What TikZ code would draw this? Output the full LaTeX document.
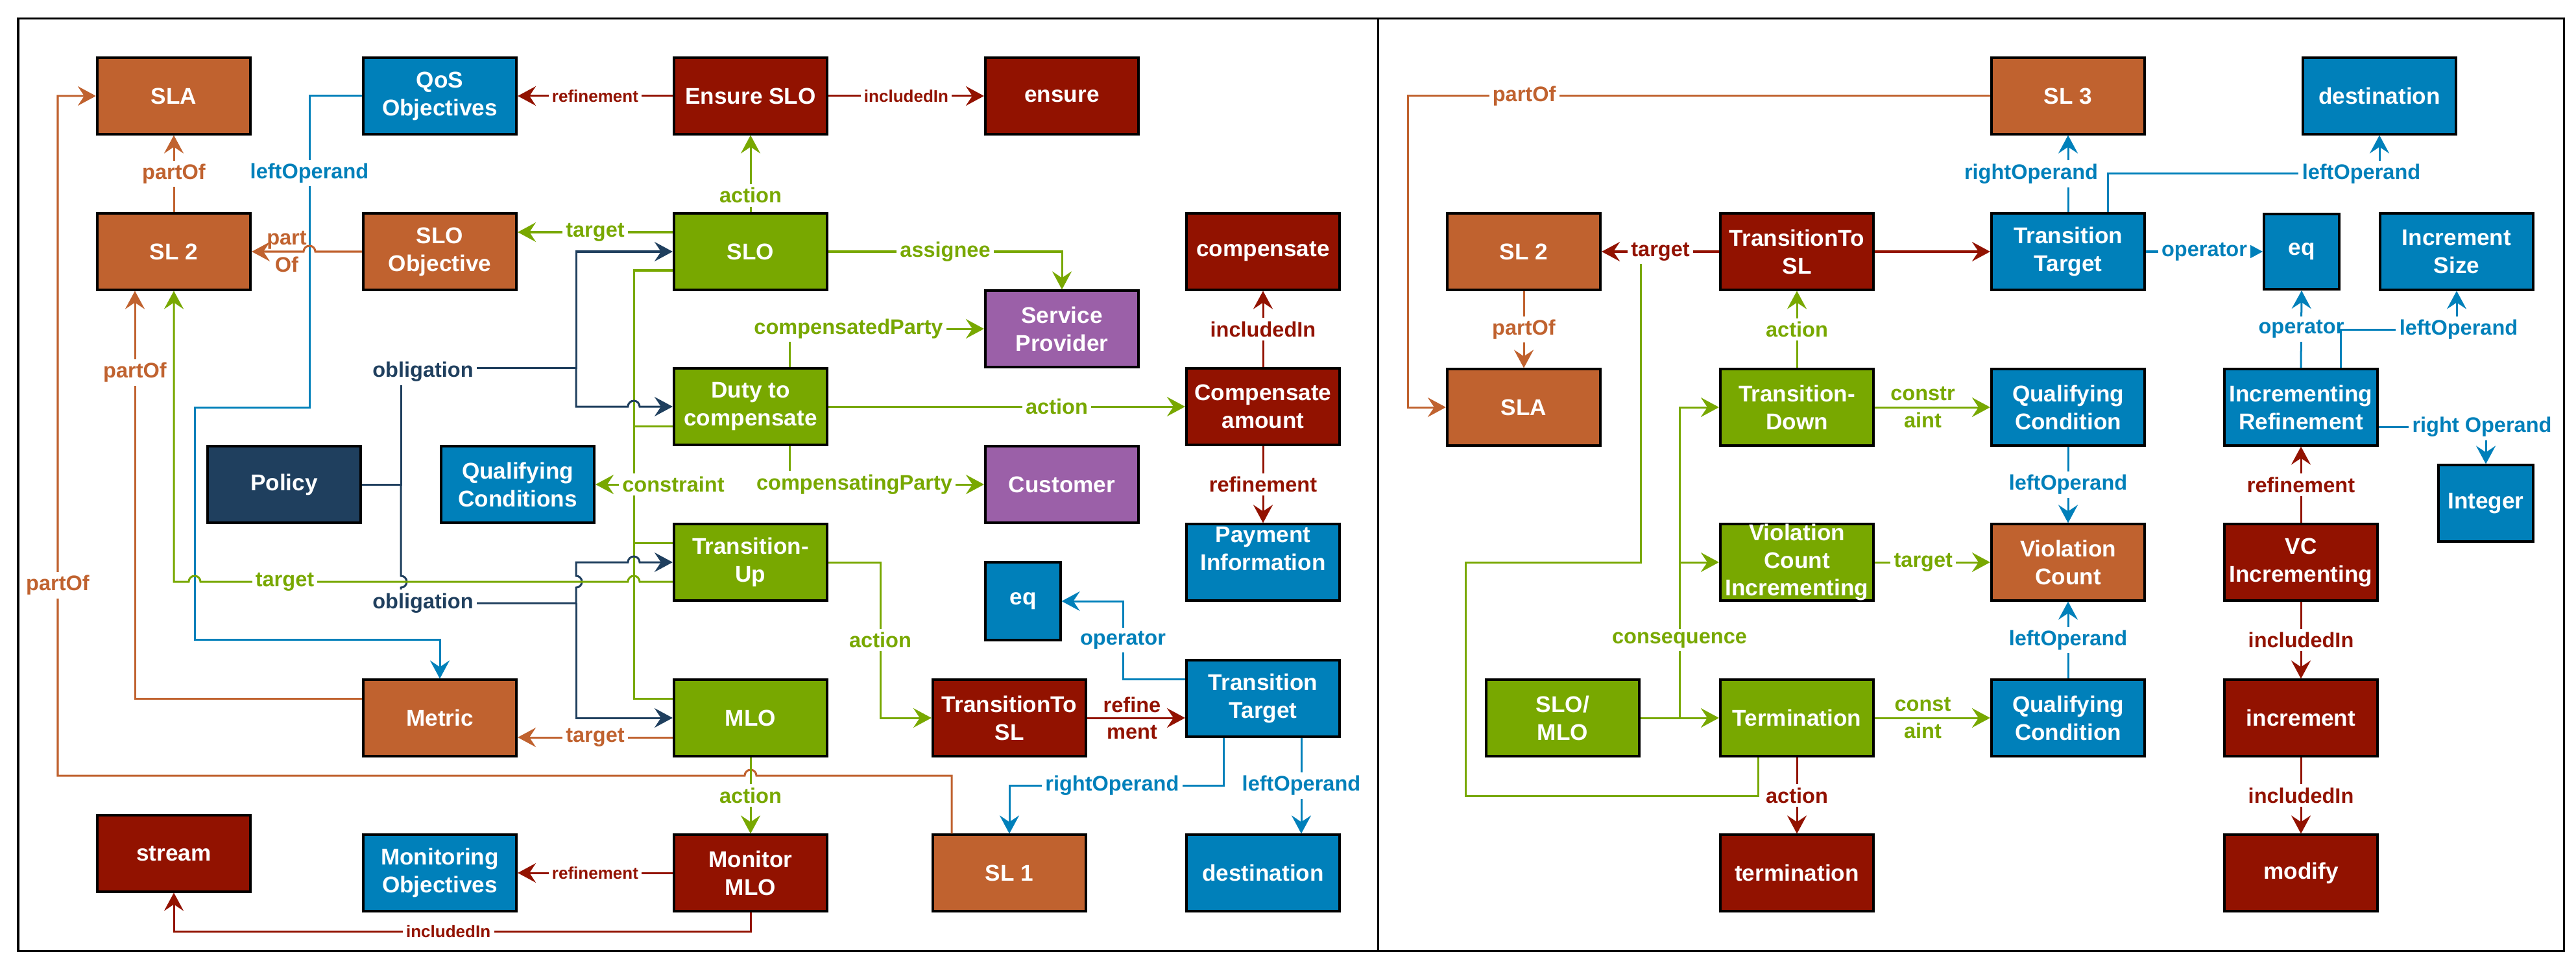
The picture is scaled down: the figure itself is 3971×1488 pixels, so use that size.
\documentclass[tikz,border=0pt]{standalone}
\usepackage{fontspec}
\setmainfont{Liberation Sans}
\usetikzlibrary{arrows.meta,calc}
\definecolor{cOr}{HTML}{C0622F}
\definecolor{cBl}{HTML}{0080BA}
\definecolor{cRd}{HTML}{921200}
\definecolor{cGr}{HTML}{78A800}
\definecolor{cPu}{HTML}{9B60A8}
\definecolor{cNv}{HTML}{1F3F5E}
\begin{document}
\begin{tikzpicture}[x=0.01cm,y=-0.01cm,
 box/.style={draw=black, line width=0.04cm, minimum width=2.36cm, minimum height=1.17cm, inner sep=0pt, align=center, text=white, font=\bfseries\fontsize{10}{12.2}\selectfont},
 arr/.style={line width=0.03cm, -{Stealth[length=0.28cm,width=0.3cm,inset=0.1cm]}},
 plain/.style={line width=0.03cm},
 lbl/.style={fill=white, inner sep=1.5pt, align=center, font=\bfseries\fontsize{9.25}{11.7}\selectfont},
 lbls/.style={lbl, font=\bfseries\fontsize{7.4}{9}\selectfont},
 lbltwo/.style={lbl, fill=none, inner sep=0pt},
]
\useasboundingbox (0,0) rectangle (3971,1488);
\draw[line width=0.03cm] (28,29) rectangle (3952,1466);
\draw[line width=0.03cm] (2124,29) -- (2124,1466);

% ---------------- left panel nodes
\node[box, fill=cOr] (sla) at (268,148) {SLA};
\node[box, fill=cBl] (qos) at (678,148) {QoS\\Objectives};
\node[box, fill=cRd] (ensslo) at (1157,148) {Ensure SLO};
\node[box, fill=cRd] (ensure) at (1637,148) {ensure};
\node[box, fill=cOr] (sl2) at (268,388) {SL 2};
\node[box, fill=cOr] (sloobj) at (678,388) {SLO\\Objective};
\node[box, fill=cGr] (slo) at (1157,388) {SLO};
\node[box, fill=cRd] (comp) at (1947,388) {compensate};
\node[box, fill=cPu] (sp) at (1637,507) {Service\\Provider};
\node[box, fill=cGr] (duty) at (1157,627) {Duty to\\compensate};
\node[box, fill=cRd] (camt) at (1947,627) {Compensate\\amount};
\node[box, fill=cPu] (cust) at (1637,747) {Customer};
\node[box, fill=cNv] (policy) at (438,747) {Policy};
\node[box, fill=cBl] (qcL) at (798,747) {Qualifying\\Conditions};
\node[box, fill=cGr] (tup) at (1157,867) {Transition-\\Up};
\node[box, fill=cBl] (pay) at (1947,867) {Payment\\Information\\\mbox{}};
\node[box, fill=cBl, minimum width=1.15cm, minimum height=1.19cm] (eqL) at (1577,927) {eq};
\node[box, fill=cOr] (metric) at (678,1107) {Metric};
\node[box, fill=cGr] (mlo) at (1157,1107) {MLO};
\node[box, fill=cRd] (tslL) at (1556,1107) {TransitionTo\\SL};
\node[box, fill=cBl] (ttL) at (1947,1077) {Transition\\Target};
\node[box, fill=cRd] (stream) at (268,1316) {stream};
\node[box, fill=cBl] (monobj) at (678,1346) {Monitoring\\Objectives};
\node[box, fill=cRd] (monmlo) at (1157,1346) {Monitor\\MLO};
\node[box, fill=cOr] (sl1) at (1556,1346) {SL 1};
\node[box, fill=cBl] (destL) at (1947,1346) {destination};

% ---------------- right panel nodes
\node[box, fill=cOr] (sl3) at (3188,148) {SL 3};
\node[box, fill=cBl] (destR) at (3668,148) {destination};
\node[box, fill=cOr] (sl2R) at (2349,388) {SL 2};
\node[box, fill=cRd] (tslR) at (2770,388) {TransitionTo\\SL};
\node[box, fill=cBl] (ttR) at (3188,388) {Transition\\Target};
\node[box, fill=cBl, minimum width=1.16cm, minimum height=1.16cm] (eqR) at (3548,388) {eq};
\node[box, fill=cBl] (incsize) at (3787,388) {Increment\\Size};
\node[box, fill=cOr] (slaR) at (2349,628) {SLA};
\node[box, fill=cGr] (tdown) at (2770,628) {Transition-\\Down};
\node[box, fill=cBl] (qc1) at (3188,628) {Qualifying\\Condition};
\node[box, fill=cBl] (ir) at (3547,628) {Incrementing\\Refinement};
\node[box, fill=cBl, minimum width=1.45cm] (integer) at (3832,776) {Integer};
\node[box, fill=cGr] (vci) at (2770,867) {Violation\\Count\\Incrementing};
\node[box, fill=cOr] (vc) at (3188,867) {Violation\\Count};
\node[box, fill=cRd] (vcinc) at (3547,867) {VC\\Incrementing};
\node[box, fill=cGr] (slomlo) at (2409,1107) {SLO/\\MLO};
\node[box, fill=cGr] (term) at (2770,1107) {Termination};
\node[box, fill=cBl] (qc2) at (3188,1107) {Qualifying\\Condition};
\node[box, fill=cRd] (increment) at (3547,1107) {increment};
\node[box, fill=cRd] (termination) at (2770,1346) {termination};
\node[box, fill=cRd] (modify) at (3547,1346) {modify};

% ---------------- left panel connectors
\draw[arr,cRd] (ensslo.west) -- node[lbls]{refinement} (qos.east);
\draw[arr,cRd] (ensslo.east) -- node[lbls]{includedIn} (ensure.west);
\draw[arr,cGr] (slo.north) -- node[lbl,pos=0.22]{action} (ensslo.south);
\draw[arr,cOr] (sl2.north) -- node[lbl]{partOf} (sla.south);
\draw[arr,cGr] ($(slo.west)+(0,-30)$) -- node[lbl]{target} ($(sloobj.east)+(0,-30)$);
\draw[arr,cBl] (qos.west) -- (477,148) -- node[lbl,pos=0.248]{leftOperand} (477,628) -- (300,628) -- (300,986) -- (678,986) -- (metric.north);
\draw[arr,cOr] (sloobj.west) -- (486,388) arc[start angle=0,end angle=180,radius=0.09cm] -- (sl2.east);
\node[lbltwo,text=cOr] (lpartof) at (442,388) {part\\Of};

% constraint network
\coordinate (jc) at (977,747);
\draw[plain,cGr] ($(slo.west)+(0,29)$) -- (977,417) -- (977,1077) -- ($(mlo.west)+(0,-30)$);
\draw[plain,cGr] ($(duty.west)+(0,30)$) -- (977,657);
\draw[plain,cGr] ($(tup.west)+(0,-30)$) -- (977,837);
\draw[arr,cGr] (jc) -- (qcL.east);
\node[lbl,text=cGr] (lconstraint) at (1038,747) {constraint};

% obligations
\coordinate (jp) at (618,747);
\coordinate (jo1) at (888,567);
\coordinate (jo2) at (888,930);
\draw[arr,cNv] (policy.east) -- (jp) -- (618,567) -- (jo1) -- (888,388) -- (slo.west);
\draw[arr,cNv] (jo1) -- (888,627) -- (968,627) arc[start angle=180,end angle=0,radius=0.09cm] -- (duty.west);
\draw[arr,cNv] (jp) -- (618,888) arc[start angle=90,end angle=-90,radius=0.09cm] -- (618,930) -- (jo2) -- (888,906) arc[start angle=-90,end angle=90,radius=0.09cm] -- (888,867) -- (968,867) arc[start angle=180,end angle=0,radius=0.09cm] -- (tup.west);
\draw[arr,cNv] (jo2) -- (888,1107) -- (mlo.west);
\node[lbl,text=cNv] (lobl1) at (652,573) {obligation};
\node[lbl,text=cNv] (lobl2) at (652,930) {obligation};

% target to SL 2
\draw[arr,cGr] ($(tup.west)+(0,30)$) -- (986,897) arc[start angle=0,end angle=180,radius=0.09cm] -- (309,897) arc[start angle=0,end angle=180,radius=0.09cm] -- (268,897) -- (sl2.south);
\node[lbl,text=cGr] (ltarget1) at (439,897) {target};

\draw[arr,cOr] ($(metric.west)+(0,-30)$) -- (208,1077) -- node[lbl,pos=0.8]{partOf} ($(sl2.south)+(-60,0)$);
\draw[arr,cOr] ($(sl1.north)+(-89,0)$) -- (1467,1196) -- (1166,1196) arc[start angle=0,end angle=180,radius=0.09cm] -- (89,1196) -- node[lbl,pos=0.28]{partOf} (89,148) -- (sla.west);
\draw[arr,cOr] ($(mlo.west)+(0,30)$) -- node[lbl]{target} ($(metric.east)+(0,30)$);
\draw[arr,cGr] (mlo.south) -- node[lbl]{action} (monmlo.north);
\draw[arr,cRd] (monmlo.west) -- node[lbls]{refinement} (monobj.east);
\draw[arr,cRd] (monmlo.south) -- (1157,1436) -- node[lbls,pos=0.524]{includedIn} (268,1436) -- (stream.south);

\draw[arr,cGr] (tup.east) -- (1357,867) -- node[lbl]{action} (1357,1107) -- (tslL.west);
\draw[arr,cRd] (tslL.east) -- ($(ttL.west)+(0,30)$);
\node[lbltwo,text=cRd] (lrefine) at (1745,1107) {refine\\ment};
\draw[arr,cBl] ($(ttL.west)+(0,-30)$) -- (1731,1047) -- node[lbl]{operator} (1731,927) -- (eqL.east);
\draw[arr,cBl] ($(ttL.south)+(-61,0)$) -- (1886,1211) -- node[lbl,pos=0.52]{rightOperand} (1556,1211) -- (sl1.north);
\draw[arr,cBl] ($(ttL.south)+(59,0)$) -- node[lbl]{leftOperand} ($(destL.north)+(59,0)$);

\draw[arr,cGr] (slo.east) -- node[lbl]{assignee} (1637,388) -- (sp.north);
\draw[arr,cGr] ($(duty.north)+(60,0)$) -- (1217,507) -- (sp.west);
\node[lbl,text=cGr] (lcompd) at (1308,507) {compensatedParty};
\draw[arr,cGr] ($(duty.south)+(60,0)$) -- (1217,747) -- (cust.west);
\node[lbl,text=cGr] (lcompg) at (1317,747) {compensatingParty};
\draw[arr,cGr] (duty.east) -- node[lbl,pos=0.64]{action} (camt.west);
\draw[arr,cRd] (camt.north) -- node[lbl]{includedIn} (comp.south);
\draw[arr,cRd] (camt.south) -- node[lbl]{refinement} (pay.north);

% ---------------- right panel connectors
\draw[plain,cGr] ($(term.south)+(-60,0)$) -- (2710,1227) -- (2259,1227) -- (2259,867) -- (2529,867) -- (2529,400);
\draw[arr,cOr] (sl3.west) -- node[lbl,pos=0.8]{partOf} (2170,148) -- (2170,628) -- (slaR.west);
\draw[arr,cOr] (sl2R.south) -- node[lbl]{partOf} (slaR.north);
\draw[arr,cRd] (tslR.west) -- node[lbl]{target} (sl2R.east);
\draw[arr,cRd] (tslR.east) -- (ttR.west);
\draw[arr,cGr] (tdown.north) -- node[lbl]{action} (tslR.south);
\draw[arr,cGr] (tdown.east) -- (qc1.west);
\node[lbltwo,text=cGr] (lconstr1) at (2964,628) {constr\\aint};
\draw[arr,cBl] (ttR.north) -- (sl3.south);
\node[lbl,text=cBl] (lright1) at (3131,268) {rightOperand};
\draw[arr,cBl] ($(ttR.north)+(61,0)$) -- (3249,268) -- (3668,268) -- (destR.south);
\node[lbl,text=cBl] (lleft1) at (3640,268) {leftOperand};
\draw[arr,cBl] (ttR.east) -- node[lbl]{operator} (eqR.west);
\draw[arr,cBl] (ir.north) -- node[lbl]{operator} (eqR.south);
\draw[arr,cBl] ($(ir.north)+(61,0)$) -- (3608,508) -- (3787,508) -- (incsize.south);
\node[lbl,text=cBl] (lleft2) at (3790,508) {leftOperand};
\draw[arr,cBl] ($(ir.east)+(0,30)$) -- (3832,658) -- (integer.north);
\node[lbl,text=cBl] (lright2) at (3826,658) {right Operand};
\draw[arr,cBl] (qc1.south) -- node[lbl]{leftOperand} (vc.north);
\draw[arr,cBl] (qc2.north) -- node[lbl]{leftOperand} (vc.south);
\draw[arr,cRd] (vcinc.north) -- node[lbl]{refinement} (ir.south);
\draw[arr,cRd] (vcinc.south) -- node[lbl]{includedIn} (increment.north);
\draw[arr,cRd] (increment.south) -- node[lbl]{includedIn} (modify.north);
\draw[arr,cGr] (vci.east) -- node[lbl,pos=0.42]{target} (vc.west);
\draw[arr,cGr] (term.east) -- (qc2.west);
\node[lbltwo,text=cGr] (lconstr2) at (2964,1107) {const\\aint};
\draw[arr,cRd] (term.south) -- node[lbl]{action} (termination.north);
\coordinate (jq) at (2589,1107);
\coordinate (jq2) at (2589,867);
\draw[arr,cGr] (slomlo.east) -- (term.west);
\draw[arr,cGr] (jq) -- (jq2) -- (vci.west);
\draw[arr,cGr] (jq2) -- (2589,628) -- (tdown.west);
\node[lbl,text=cGr] (lcons) at (2589,987) {consequence};
\end{tikzpicture}
\end{document}
